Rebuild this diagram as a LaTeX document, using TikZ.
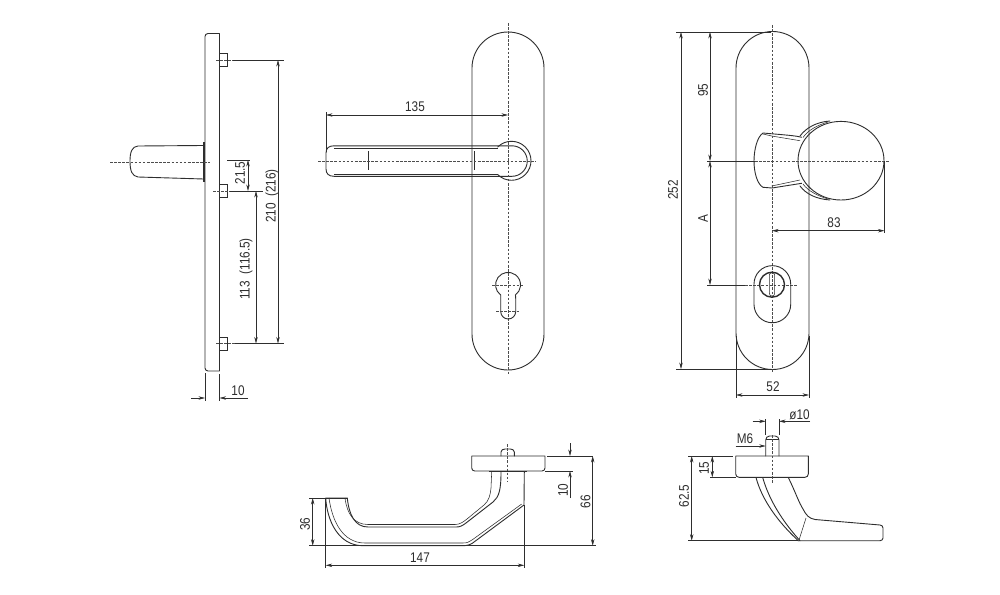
\documentclass[tikz,border=0pt]{standalone}
\usepackage{fontspec}
\setmainfont{Liberation Sans}[FakeStretch=0.84]
\usetikzlibrary{arrows.meta}
\definecolor{ink}{HTML}{2E2E2E}
\tikzset{
  part/.style={draw=ink,line width=0.9pt,line join=round,line cap=round},
  thin part/.style={draw=ink,line width=0.55pt},
  heavy/.style={draw=ink,line width=1.6pt},
  dim/.style={draw=ink,line width=0.55pt},
  ctr/.style={draw=ink!85,line width=0.65pt,dash pattern=on 2.6pt off 1.5pt},
  arr/.style={dim,-{Stealth[length=6.5pt,width=3.4pt]}},
  arrs/.style={dim,{Stealth[length=6.5pt,width=3.4pt]}-{Stealth[length=6.5pt,width=3.4pt]}},
  lab/.style={text=ink,font=\fontsize{14}{16}\selectfont,inner sep=0pt},
  vlab/.style={lab,rotate=90}
}
\begin{document}
\begin{tikzpicture}[x=1pt,y=-1pt]
\useasboundingbox (0,0) rectangle (1000,594);
\fill[white] (0,0) rectangle (1000,594);

% ---------- left side view ----------
\draw[part] (219.5,33.5) -- (208,33.5) to[out=180,in=90] (205,36.5) -- (205,368) to[out=-90,in=180] (208,371) -- (219.5,371) -- cycle;
\draw[thin part] (219.5,53) rectangle (227.5,66);
\draw[thin part] (219.5,184) rectangle (227.5,197);
\draw[thin part] (219.5,337) rectangle (227.5,350);
\draw[part] (203.5,145.5) -- (138,146) .. controls (132,146.5) and (130,152) .. (130,161) .. controls (130,171) and (132,176) .. (138,177) -- (203.5,179);
\draw[heavy] (204,142) -- (204,182);
\draw[ctr] (110,162) -- (210,162);
\draw[ctr] (216,60) -- (233,60);
\draw[ctr] (213,191) -- (230,191);
\draw[ctr] (216,343.5) -- (235,343.5);
\draw[dim] (233,60) -- (284,60);
\draw[dim] (230,191) -- (263,191);
\draw[dim] (235,343.5) -- (284,343.5);
\draw[dim] (227,160) -- (250,160);
\draw[arrs] (248,160) -- (248,191);
\draw[arrs] (278,60) -- (278,343.5);
\draw[arrs] (256,191) -- (256,343.5);
\draw[dim] (205,373) -- (205,401);
\draw[dim] (219.5,374) -- (219.5,401);
\draw[arr] (191,398) -- (205,398);
\draw[arr] (248,398) -- (219.5,398);
\node[vlab] (d215) at (240,173) {21.5};
\node[vlab] (d113) at (246,269) {113\ \ (116.5)};
\node[vlab] (d210) at (272,196) {210\ \ (216)};
\node[lab] (d10a) at (238,391) {10};

% ---------- lever front view ----------
\draw[part] (472,68) arc[start angle=180,end angle=360,radius=36] -- (544,334) arc[start angle=0,end angle=180,radius=36] -- cycle;
\draw[part] (497.7,147) arc[start angle=-135,end angle=135,radius=19.5];
\draw[part] (512,145.8) -- (334,145.8) .. controls (329,145.8) and (326,148) .. (326,153) -- (326,169) .. controls (326,174) and (329,176.3) .. (334,176.3) -- (512,176.3) arc[start angle=90,end angle=-90,radius=15.25];
\draw[thin part] (334,148.2) -- (498,148.2);
\draw[thin part] (334,174) -- (498,174);
\draw[dim] (368.7,151) -- (368.7,170);
\draw[dim] (474,151) -- (474,170);
\draw[ctr] (318,161) -- (536,161);
\draw[ctr] (508,23) -- (508,374);
\draw[dim] (326,112) -- (326,152);
\draw[arrs] (326,115) -- (508,115);
\node[lab] (d135) at (415,107) {135};
\draw[part] (500.7,295) arc[start angle=126,end angle=414,radius=12.5] .. controls (515.7,297) .. (515.7,301) -- (515.7,311.5) arc[start angle=0,end angle=180,radius=7.5] -- (500.7,301) .. controls (500.7,297) .. cycle;
\draw[ctr] (492,285) -- (524,285);
\draw[ctr] (496,311.7) -- (520,311.7);

% ---------- knob front view ----------
\draw[part] (736,68) arc[start angle=180,end angle=360,radius=36.5] -- (809,333) arc[start angle=0,end angle=180,radius=36.5] -- cycle;
\draw[part] (841,160.7) ++(-43,0) arc[start angle=180,end angle=-180,x radius=43,y radius=39.3];
\draw[part] (800,136) .. controls (806,128) and (816,122) .. (830,121);
\draw[part] (800,186) .. controls (806,194) and (816,199) .. (830,200);
\draw[thin part] (803,137.5) .. controls (808,130) and (818,125) .. (828,122);
\draw[thin part] (803,184) .. controls (808,191) and (818,196) .. (828,199);
\draw[part] (801.7,137.3) .. controls (795,135.5) and (785,135) .. (763,133) .. controls (757,137) and (754,150) .. (754,161) .. controls (754,172) and (757,184) .. (763,187.3) -- (772,188) -- (801.7,183.3);
\draw[thin part] (763,134) -- (771.7,136) -- (800,140.7);
\draw[thin part] (771.7,186) -- (800,180);
\draw[ctr] (772,25) -- (772,372);
\draw[dim] (707,161) -- (755,161);
\draw[ctr] (755,161) -- (890,161);
\draw[dim] (676,32) -- (771,32);
\draw[dim] (676,369) -- (772,369);
\draw[arrs] (681,32) -- (681,369);
\draw[arrs] (710,32) -- (710,161);
\draw[arrs] (710,161) -- (710,285);
\draw[dim] (707,285) -- (745,285);
\draw[ctr] (745,285) -- (797,285);
\draw[dim] (884.5,161) -- (884.5,233);
\draw[arrs] (772,230.7) -- (884.5,230.7);
\draw[dim] (736,336) -- (736,398);
\draw[dim] (809,336) -- (809,398);
\draw[arrs] (736,395) -- (809,395);
\node[vlab] (d252) at (673,190) {252};
\node[vlab] (d95) at (703,90) {95};
\node[vlab] (dA) at (703,219) {A};
\node[lab] (d83) at (834,223) {83};
\node[lab] (d52) at (773,387) {52};
\draw[part] (754,284) arc[start angle=180,end angle=360,radius=18.35] -- (790.7,304.4) arc[start angle=0,end angle=180,radius=18.35] -- cycle;
\draw[draw=ink,line width=1.4pt] (772,284.7) circle[radius=12.5];
\draw[thin part,rounded corners=2.6pt] (769.3,272.7) rectangle (774.7,296);

% ---------- lever bottom view ----------
\draw[part] (471.7,456) -- (545,456) -- (545,468) to[out=-90,in=0] (542,471) -- (474.7,471) to[out=180,in=-90] (471.7,468) -- cycle;
\draw[part] (501,456) -- (501,452) to[out=90,in=180] (505,449) -- (510.3,449) to[out=0,in=90] (514.3,452) -- (514.3,456);
\draw[ctr] (507.7,444) -- (507.7,482);
\draw[draw=ink,line width=1.4pt] (489,471.5) -- (527,471.5);
\draw[part] (524.3,472) -- (524,505) -- (472,543.5) .. controls (468,545.5) and (466,545.7) .. (462,545.7) -- (363,545.7) .. controls (338,545.7) and (327,520) .. (325.7,498) -- (347.3,498) .. controls (349,515) and (355,527) .. (368,527) -- (456,527) .. controls (460,527) and (462,526) .. (466,523) -- (493,502) .. controls (499,497) and (501,490) .. (501,472);
\draw[thin part] (329,498) .. controls (332,520) and (342,543) .. (365,543) -- (463,543) .. controls (467,543) and (469,542) .. (472,540) -- (521.7,504);
\draw[thin part] (345,498) .. controls (347,514) and (354,524.5) .. (368,524.5) -- (455,524.5) .. controls (460,524.5) and (463,522) .. (467,519) -- (484,505) .. controls (489,501) and (490.5,494) .. (491,488) -- (491.7,472);
\draw[dim] (309,545.7) -- (596,545.7);
\draw[dim] (309,498) -- (347,498);
\draw[arrs] (312.7,498) -- (312.7,545.7);
\draw[dim] (325.7,499) -- (325.7,568);
\draw[dim] (524.3,505) -- (524.3,568);
\draw[arrs] (325.7,565.3) -- (524.3,565.3);
\draw[dim] (547,456) -- (593,456);
\draw[dim] (545,471) -- (573,471);
\draw[arr] (570,443) -- (570,456);
\draw[arr] (570,498) -- (570,471);
\draw[arrs] (592.7,456) -- (592.7,545.7);
\node[vlab] (d36) at (305,524) {36};
\node[lab] (d147) at (420,558) {147};
\node[vlab] (d10b) at (563,490) {10};
\node[vlab] (d66) at (585.5,501.5) {66};

% ---------- knob side view ----------
\draw[part] (735.7,456) -- (808.3,456) -- (808.3,474) to[out=-90,in=0] (805,477.3) -- (739,477.3) to[out=180,in=-90] (735.7,474) -- cycle;
\draw[part] (765.7,456) -- (765.7,440) to[out=90,in=180] (769.5,436) -- (775.2,436) to[out=0,in=90] (779,440) -- (779,456);
\draw[thin part] (766,439) -- (778.7,439);
\draw[ctr] (772,435) -- (772,484);
\draw[part] (756,477.5) .. controls (762,500) and (778,522) .. (798.3,540.7);
\draw[part] (762.7,477.5) .. controls (769,500) and (783,522) .. (800,540.7);
\draw[part] (788.3,477.5) .. controls (795,491) and (799,503) .. (803,509) .. controls (806,515) and (809,518.5) .. (815,519.5) -- (880,525) to[out=0,in=90] (883,528) -- (883,538) to[out=-90,in=0] (880,540.7) -- (798,540.7);
\draw[thin part] (806,518) -- (799,540);
\draw[dim] (688,456) -- (733,456);
\draw[dim] (710,477.3) -- (736,477.3);
\draw[dim] (688,540.7) -- (798,540.7);
\draw[arrs] (712.3,456) -- (712.3,477.3);
\draw[arrs] (691.7,456) -- (691.7,540.7);
\draw[dim] (765.7,419) -- (765.7,435);
\draw[dim] (779,419) -- (779,435);
\draw[arr] (752.7,421.3) -- (765.7,421.3);
\draw[arr] (810,421.3) -- (779,421.3);
\draw[arr] (735.7,446) -- (765.7,446);
\node[lab] (dphi) at (799.5,415) {ø10};
\node[lab] (dM6) at (745,439) {M6};
\node[vlab] (d15) at (704,468) {15};
\node[vlab] (d625) at (684,496) {62.5};
\end{tikzpicture}
\end{document}
